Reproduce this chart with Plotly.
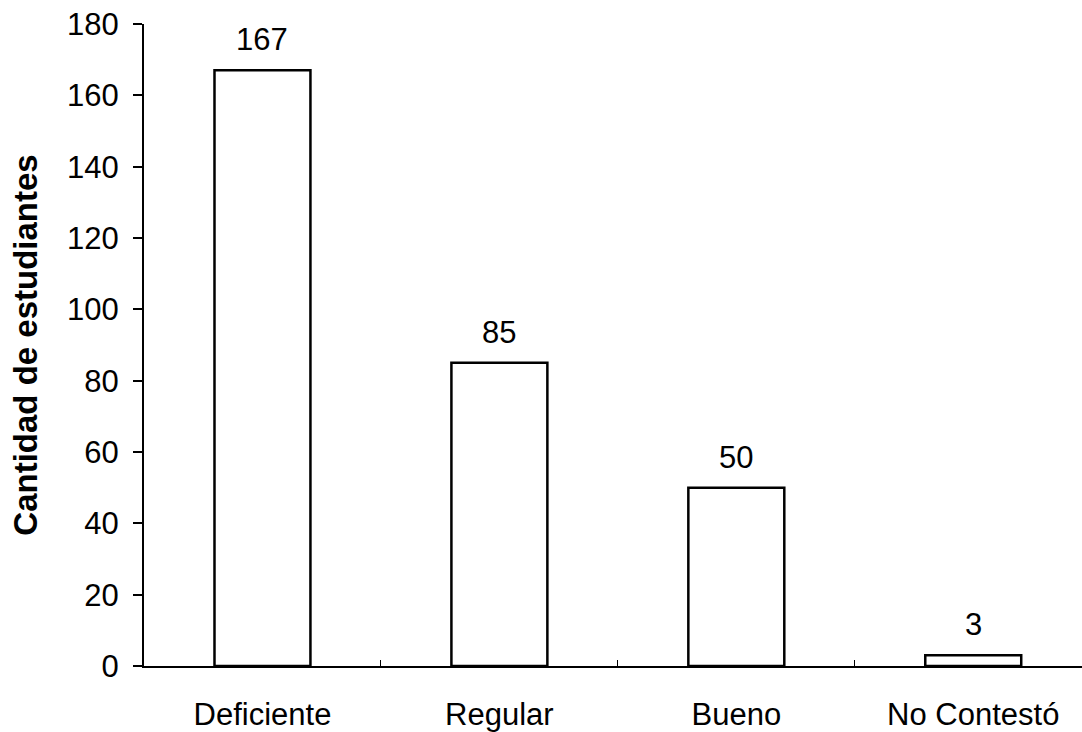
import plotly.graph_objects as go

# Survey results: students per rating category
categories = ["Deficiente", "Regular", "Bueno", "No Contestó"]
counts = [167, 85, 50, 3]
y_ticks = [0, 20, 40, 60, 80, 100, 120, 140, 160, 180]

FONT = "Liberation Sans, Arial, sans-serif"

fig = go.Figure()
fig.add_trace(go.Bar(
    x=categories,
    y=counts,
    width=0.405,
    marker=dict(color="white", line=dict(color="black", width=2.5)),
    showlegend=False,
    hoverinfo="x+y",
))

# value labels above each bar
for cat, val in zip(categories, counts):
    fig.add_annotation(
        x=cat, y=val, text=str(val), showarrow=False,
        yanchor="bottom", yshift=11,
        font=dict(family=FONT, size=31, color="black"),
    )

fig.update_layout(
    width=1082, height=732,
    margin=dict(l=144, r=0, t=24, b=64),
    paper_bgcolor="white", plot_bgcolor="white",
    font=dict(family=FONT, size=31, color="black"),
    bargap=0.6,
)
fig.update_xaxes(
    type="category",
    range=[-0.5, 3.459],
    showline=True, linecolor="black", linewidth=1.5,
    ticks="inside", tickson="boundaries", ticklen=6, tickcolor="black",
    ticklabelstandoff=20,
    showgrid=False, zeroline=False,
    tickfont=dict(family=FONT, size=31, color="black"),
)
fig.update_yaxes(
    range=[0, 180],
    tickvals=y_ticks,
    showline=True, linecolor="black", linewidth=2,
    ticks="outside", ticklen=9, tickcolor="black", tickwidth=1.5,
    ticklabelstandoff=8,
    showgrid=False, zeroline=False,
    tickfont=dict(family=FONT, size=31, color="black"),
    title=dict(text="<b>Cantidad de estudiantes</b>", standoff=20,
               font=dict(family=FONT, size=33, color="black")),
)

fig.write_html("out.html")
